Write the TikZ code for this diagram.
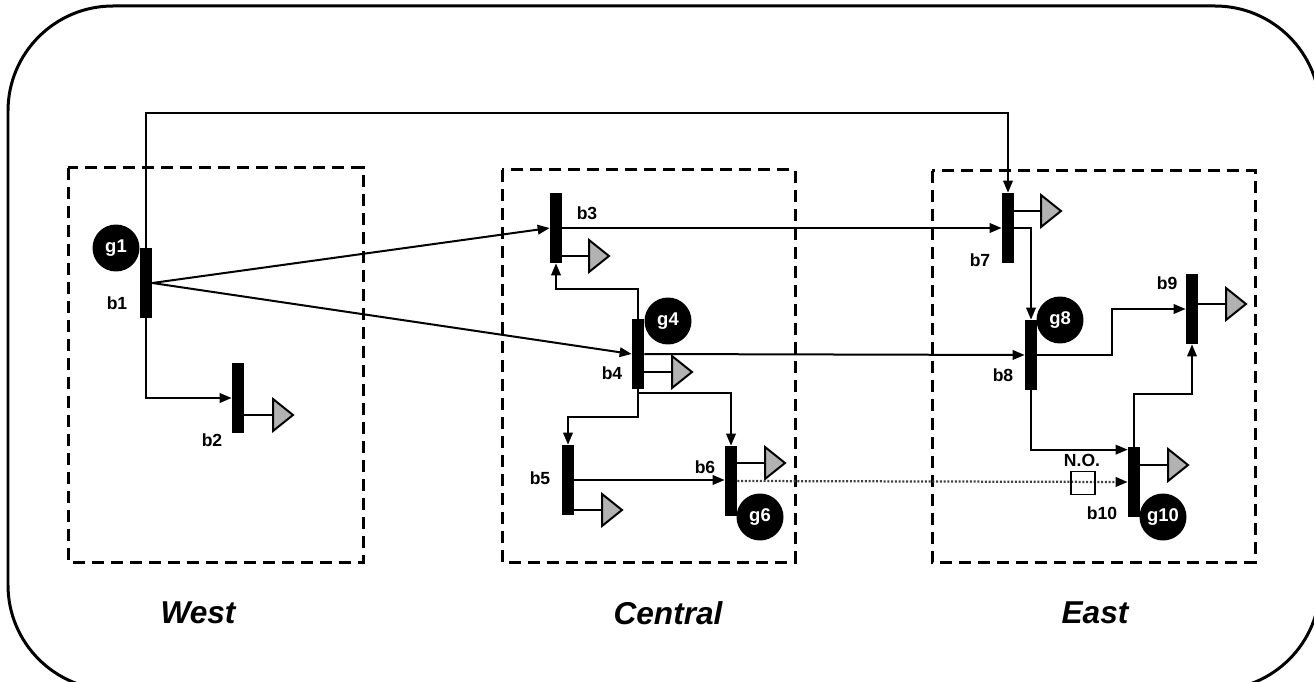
\documentclass[tikz,border=0pt]{standalone}
\usepackage{fontspec}
\setmainfont{Liberation Sans}
\usetikzlibrary{arrows.meta}
\tikzset{
 bus/.style={rectangle, fill=black, minimum width=0.24cm, minimum height=1.4cm, inner sep=0pt},
 gen/.style={circle, fill=black, text=white, font=\bfseries\fontsize{10.5}{12}\selectfont, minimum size=0.94cm, inner sep=0pt},
 conn/.style={line width=0.04cm, -{Triangle[length=0.24cm,width=0.19cm]}},
 plain/.style={line width=0.04cm},
 lbl/.style={font=\bfseries\fontsize{10}{12}\selectfont, inner sep=0pt},
 region/.style={draw, line width=0.06cm, dash pattern=on 0.24cm off 0.14cm},
 zone/.style={font=\bfseries\itshape\fontsize{18}{20}\selectfont, inner sep=0pt},
 noline/.style={line width=0.045cm, black!75, dash pattern=on 0.04cm off 0.035cm, -{Triangle[length=0.24cm,width=0.19cm,black]}},
 loadtri/.pic={\draw[line width=0.04cm, fill=gray!60] (0,-16) -- (20,0) -- (0,16) -- cycle;}
}
\begin{document}
\begin{tikzpicture}[x=0.02cm,y=-0.02cm]
\useasboundingbox (0,0) rectangle (1314,682);
\clip (0,0) rectangle (1314,682);
\fill[white] (0,0) rectangle (1314,682);
% outer frame
\draw[line width=0.06cm, rounded corners=2.1cm] (8,6) rectangle (1320,690);
% regions
\draw[region] (68,168) rectangle (363,562);
\draw[region] (502,170) rectangle (795,562);
\draw[region] (932,171) rectangle (1255,562);
\node[zone] (west) at (198,613) {West};
\node[zone] (central) at (668,613) {Central};
\node[zone] (east) at (1095,613) {East};
% generators
\node[gen] (g1) at (116,248) {g1};
\node[gen] (g4) at (668,321) {g4};
\node[gen] (g6) at (760,517) {g6};
\node[gen] (g8) at (1060,320) {g8};
\node[gen] (g10) at (1163,517) {g10};
% buses
\node[bus] (b1) at (146,283) {};
\node[bus] (b2) at (238,398) {};
\node[bus] (b3) at (556,228) {};
\node[bus] (b4) at (638,354) {};
\node[bus] (b5) at (568,480) {};
\node[bus] (b6) at (731,481) {};
\node[bus] (b7) at (1008,228) {};
\node[bus] (b8) at (1031,355) {};
\node[bus] (b9) at (1192,309) {};
\node[bus] (b10) at (1134,482) {};
% bus labels
\node[lbl] at (117,303) {b1};
\node[lbl] at (212,440) {b2};
\node[lbl] at (587,213) {b3};
\node[lbl] at (612,373) {b4};
\node[lbl] at (540,478) {b5};
\node[lbl] at (705,467) {b6};
\node[lbl] at (980,260) {b7};
\node[lbl] at (1003,375) {b8};
\node[lbl] at (1167,283) {b9};
\node[lbl] at (1102,513) {b10};
% loads
\coordinate (L2) at (273,415);
\coordinate (L3) at (589,256);
\coordinate (L4) at (672,372);
\coordinate (L5) at (602,510);
\coordinate (L6) at (765,463);
\coordinate (L7) at (1041,211);
\coordinate (L9) at (1226,304);
\coordinate (L10) at (1168,465);
\foreach \b/\l in {b2/L2,b3/L3,b4/L4,b5/L5,b6/L6,b7/L7,b9/L9,b10/L10}{
  \draw[plain] (\l -| \b.east) -- (\l);
  \pic at (\l) {loadtri};
}
% connections
\coordinate (topy) at (0,113);
\draw[conn] (b1.north) -- (b1.north |- topy) -| (b7.north);
\draw[conn] (b1.south) |- (b2.west);
\draw[conn] (b1.east) -- (b3.west);
\draw[conn] (b1.east) -- (b4.west);
\draw[conn] (b3.east) -- (b7.west);
\draw[conn] (b4.east) -- (b8.west);
\draw[conn] (b4.north) -- ++(0,-30) -| (b3.south);
\draw[conn] (b4.south) -- ++(0,4) -| (b6.north);
\draw[conn] (b4.south) -- ++(0,28) -| (b5.north);
\draw[conn] (b5.east) -- (b5.east -| b6.west);
\draw[conn] (b7.east) -| (b8.north);
\draw[conn] (b8.east) -- ++(75,0) |- (b9.west);
\draw[conn] (b8.south) |- ([yshift=-0.06cm]b10.north west);
\draw[conn] (b10.north) -- ++(0,-53) -| (b9.south);
% normally open tie
\draw[noline] (b6.east) -- (b10.west);
\node[draw, line width=0.025cm, minimum width=0.48cm, minimum height=0.46cm, inner sep=0pt] (no) at (1083,483) {};
\node[lbl] at (1082,460) {N.O.};
\end{tikzpicture}
\end{document}
